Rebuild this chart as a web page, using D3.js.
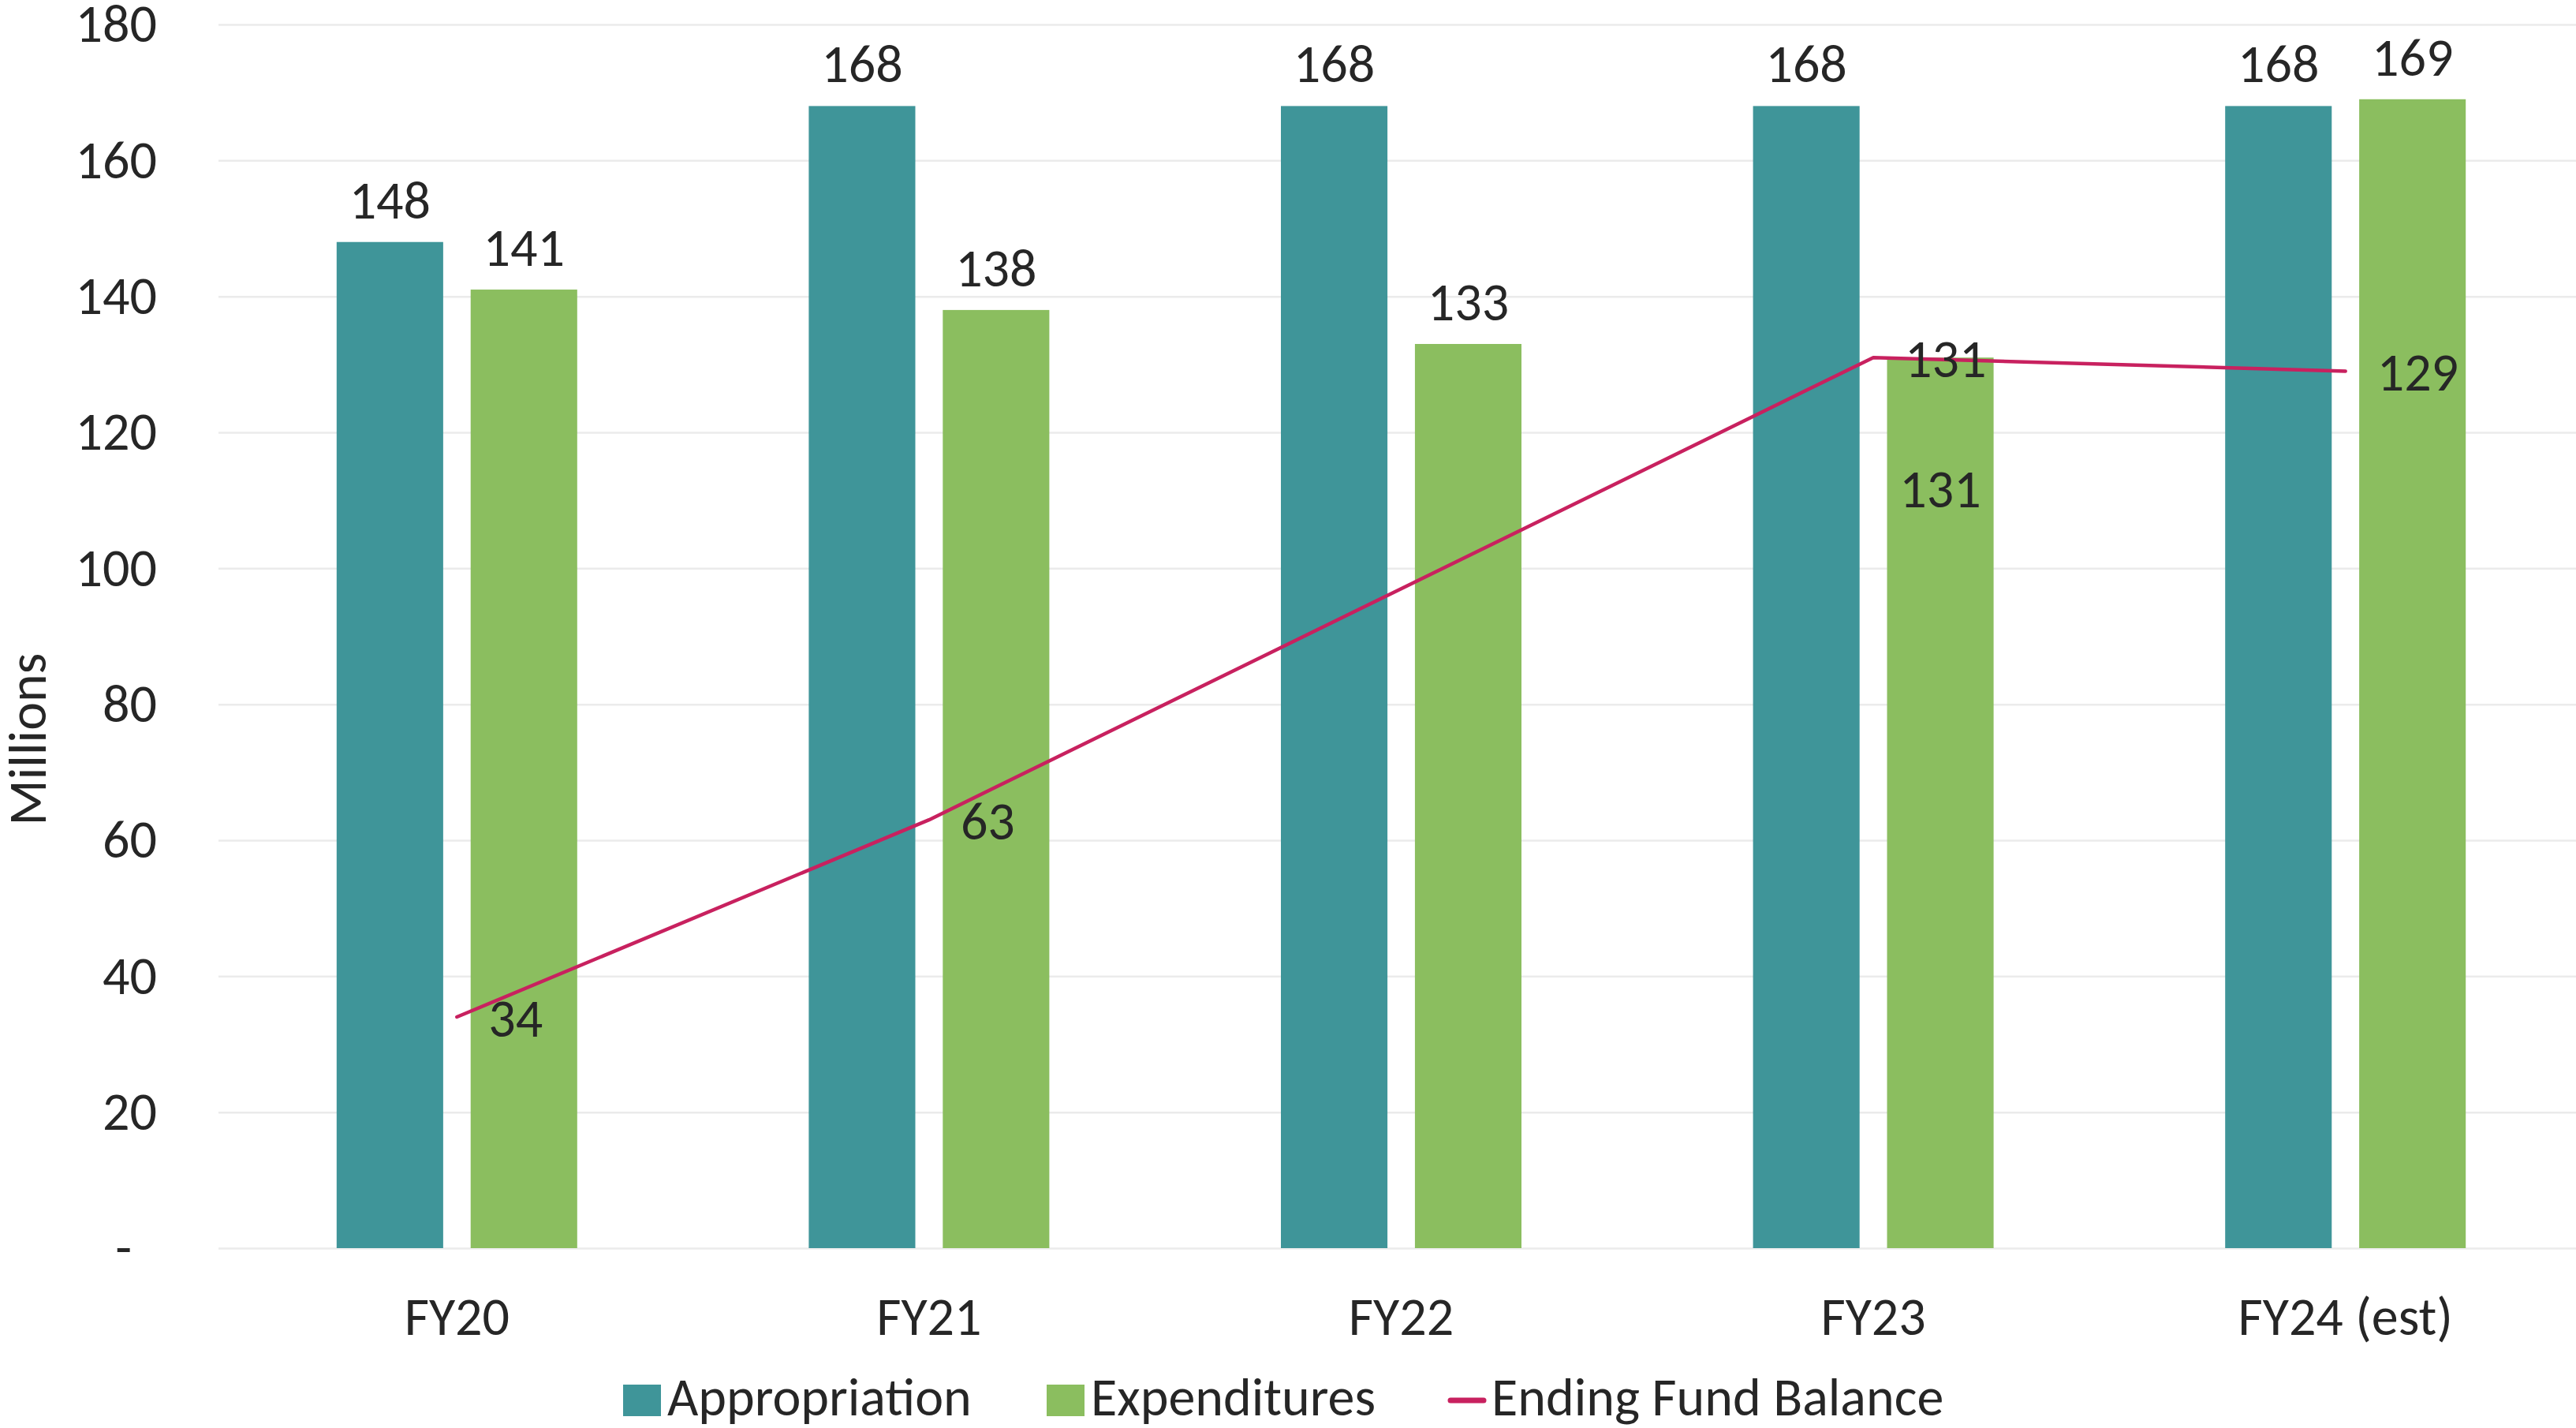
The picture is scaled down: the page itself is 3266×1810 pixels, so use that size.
<!DOCTYPE html>
<html>
<head>
<meta charset="utf-8">
<script src="https://cdn.jsdelivr.net/npm/d3@7"></script>
<style>
  html, body { margin: 0; padding: 0; background: #fff; }
  text { font-family: Carlito, Calibri, "Open Sans", sans-serif; fill: #262626; }
</style>
</head>
<body>
<div id="chart"></div>
<script>
// data (millions)
const categories = ['FY20', 'FY21', 'FY22', 'FY23', 'FY24 (est)'];
const appropriation = [148, 168, 168, 168, 168];
const expenditures = [141, 138, 133, 131, 169];
const fundBalance = [34, 63, 97, 131, 129];
const balanceLabelShown = [true, true, false, true, true];
const expLabelInside = [false, false, false, true, false];
const yTicks = [0, 20, 40, 60, 80, 100, 120, 140, 160, 180];

const width = 3266, height = 1810;
const colors = { app: '#3F9599', exp: '#8BBE5F', bal: '#C8215F' };
const fontSize = 68;

const svg = d3.select('#chart').append('svg')
    .attr('width', width)
    .attr('height', height);

const x = d3.scaleBand()
    .domain(categories)
    .range([280, 3273]);

const xInner = d3.scaleBand()
    .domain(['app', 'exp'])
    .range([0, 305])
    .paddingInner(0.205);

const y = d3.scaleLinear()
    .domain([0, 180])
    .range([1582, 31]);

// gridlines + y labels
const yAxis = svg.append('g')
    .attr('transform', 'translate(277,0)')
    .call(d3.axisLeft(y)
        .tickValues(yTicks)
        .tickSize(-(width - 277))
        .tickPadding(78)
        .tickFormat(d => d === 0 ? '-' : d));
yAxis.select('.domain').remove();
yAxis.selectAll('line').attr('stroke', '#ebebeb').attr('stroke-width', 2.5);
yAxis.selectAll('text')
    .attr('font-size', fontSize)
    .attr('fill', '#262626')
    .attr('dx', d => d === 0 ? -32 : 0);

// axis title
svg.append('text')
    .attr('transform', 'translate(58,937) rotate(-90)')
    .attr('text-anchor', 'middle')
    .attr('font-size', fontSize)
    .text('Millions');

// x labels
svg.append('g')
    .selectAll('text')
    .data(categories)
    .enter()
    .append('text')
    .attr('x', d => x(d) + x.bandwidth() / 2)
    .attr('y', 1692)
    .attr('text-anchor', 'middle')
    .attr('font-size', fontSize)
    .text(d => d);

const offset = x.bandwidth() / 2 - 152.5;

// bars
const groups = svg.append('g')
    .selectAll('g')
    .data(categories)
    .enter()
    .append('g')
    .attr('transform', d => 'translate(' + (x(d) + offset) + ',0)');

groups.append('rect')
    .attr('x', xInner('app'))
    .attr('y', (d, i) => y(appropriation[i]))
    .attr('width', xInner.bandwidth())
    .attr('height', (d, i) => y(0) - y(appropriation[i]))
    .attr('fill', colors.app);

groups.append('rect')
    .attr('x', xInner('exp'))
    .attr('y', (d, i) => y(expenditures[i]))
    .attr('width', xInner.bandwidth())
    .attr('height', (d, i) => y(0) - y(expenditures[i]))
    .attr('fill', colors.exp);

// bar labels
groups.append('text')
    .attr('x', xInner('app') + xInner.bandwidth() / 2)
    .attr('y', (d, i) => y(appropriation[i]) - 30)
    .attr('text-anchor', 'middle')
    .attr('font-size', fontSize)
    .text((d, i) => appropriation[i]);

groups.append('text')
    .attr('x', xInner('exp') + xInner.bandwidth() / 2)
    .attr('y', (d, i) => expLabelInside[i] ? y(expenditures[i]) + 190 : y(expenditures[i]) - 30)
    .attr('text-anchor', 'middle')
    .attr('font-size', fontSize)
    .text((d, i) => expenditures[i]);

// ending fund balance line
const line = d3.line()
    .x((d, i) => x(categories[i]) + x.bandwidth() / 2)
    .y(d => y(d));

svg.append('path')
    .datum(fundBalance)
    .attr('d', line)
    .attr('fill', 'none')
    .attr('stroke', colors.bal)
    .attr('stroke-width', 4.5)
    .attr('stroke-linecap', 'round')
    .attr('stroke-linejoin', 'round');

svg.append('g')
    .selectAll('text')
    .data(fundBalance.map((v, i) => ({ v, i })).filter(d => balanceLabelShown[d.i]))
    .enter()
    .append('text')
    .attr('x', d => x(categories[d.i]) + x.bandwidth() / 2 + 40)
    .attr('y', d => y(d.v) + 25)
    .attr('font-size', fontSize)
    .text(d => d.v);

// legend
const legend = svg.append('g').attr('transform', 'translate(0,1775)');
const legendItems = [
    { label: 'Appropriation', type: 'rect', color: colors.app, x: 790 },
    { label: 'Expenditures', type: 'rect', color: colors.exp, x: 1327 },
    { label: 'Ending Fund Balance', type: 'line', color: colors.bal, x: 1835 }
];
legendItems.forEach(item => {
    if (item.type === 'rect') {
        legend.append('rect')
            .attr('x', item.x).attr('y', -20)
            .attr('width', 48).attr('height', 40)
            .attr('fill', item.color);
    } else {
        legend.append('line')
            .attr('x1', item.x + 4).attr('x2', item.x + 46)
            .attr('y1', 0).attr('y2', 0)
            .attr('stroke', item.color)
            .attr('stroke-width', 7)
            .attr('stroke-linecap', 'round');
    }
    legend.append('text')
        .attr('x', item.x + 56)
        .attr('y', 19)
        .attr('font-size', fontSize)
        .text(item.label);
});
</script>
</body>
</html>
